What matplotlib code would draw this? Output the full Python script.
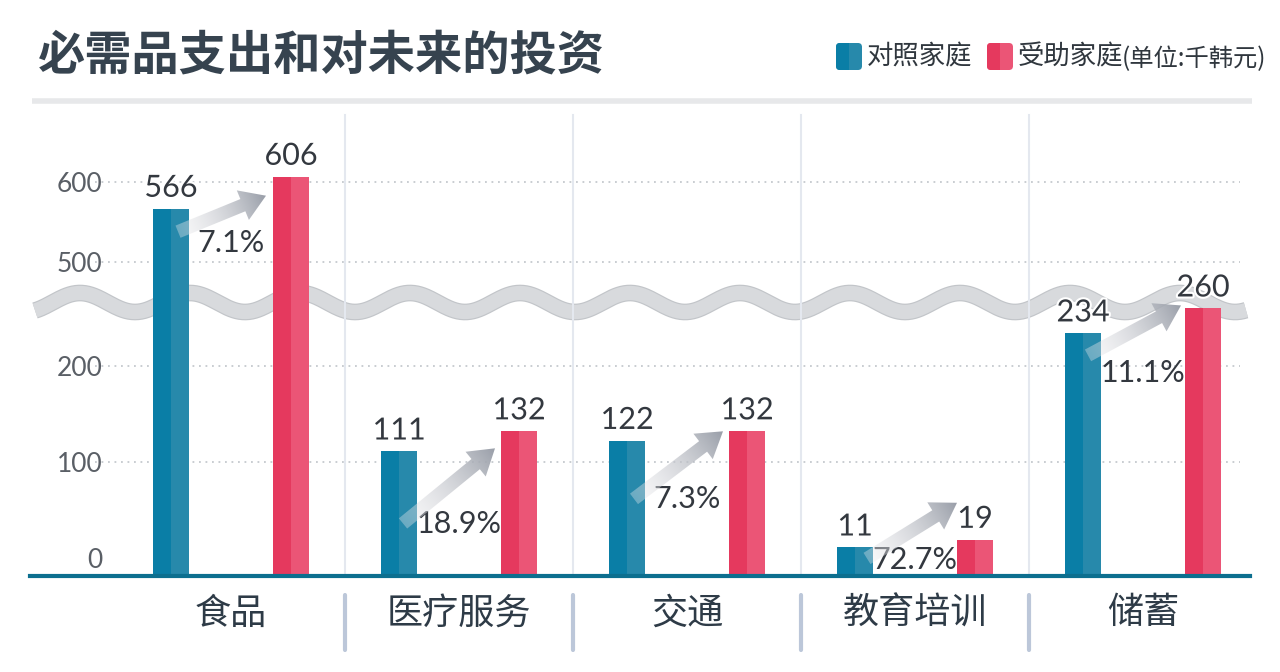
import numpy as np
import matplotlib.pyplot as plt
import matplotlib.patheffects as pe
from matplotlib.patches import FancyArrowPatch, FancyBboxPatch, Rectangle, ArrowStyle

plt.rcParams['font.family'] = ['Noto Sans CJK SC', 'DejaVu Sans']

# data
title = '必需品支出和对未来的投资'
categories = ['食品', '医疗服务', '交通', '教育培训', '储蓄']
control = [566, 111, 122, 11, 234]
aided = [606, 132, 132, 19, 260]
growth = ['7.1%', '18.9%', '7.3%', '72.7%', '11.1%']
yticks = [0, 100, 200, 500, 600]
legend_names = ['对照家庭', '受助家庭']
unit_note = '(单位:千韩元)'

BLUE_D, BLUE_L = '#0a7ea6', '#2789ab'
RED_D, RED_L = '#e5395e', '#eb5576'
TXT = '#33383f'
NUM_FONT = ['Lato', 'DejaVu Sans']

W, H = 1280, 672

# broken y axis: the gap 267..450 is squeezed to nothing
knots_v = [-100, 266.7, 450, 1000]
knots_f = [-96, 256, 256.5, 696.5]


def fwd(v):
    return np.interp(v, knots_v, knots_f)


def inv(f):
    return np.interp(f, knots_f, knots_v)


fig = plt.figure(figsize=(W / 100, H / 100), dpi=100)
fig.patch.set_facecolor('white')

# background layer in pixel coords (y downwards)
bg = fig.add_axes([0, 0, 1, 1], zorder=0)
bg.set_xlim(0, W)
bg.set_ylim(H, 0)
bg.axis('off')

bg.text(38, 56, title, fontsize=34, fontweight='bold', va='center', color='#36434f')
bg.plot([32, 1252], [101, 101], color='#e7e8ea', lw=4, solid_capstyle='butt')

# legend
def legend_box(x, dark, light):
    box = FancyBboxPatch((x, 43), 26, 27, boxstyle='round,pad=0,rounding_size=4',
                         facecolor=light, edgecolor='none')
    bg.add_patch(box)
    half = Rectangle((x, 43), 13, 27, facecolor=dark, edgecolor='none')
    bg.add_patch(half)
    half.set_clip_path(box)

legend_box(836, BLUE_D, BLUE_L)
bg.text(867, 57, legend_names[0], fontsize=19, va='center', color='#30373e')
legend_box(987, RED_D, RED_L)
bg.text(1018, 57, legend_names[1], fontsize=19, va='center', color='#30373e')
bg.text(1122, 59, unit_note, fontsize=17.5, va='center', color='#30373e')

# wave marking the axis break
wx = np.linspace(35, 1246, 800)
wy = 302.5 - 9.5 * np.cos(2 * np.pi * (wx - 520) / 110)
bg.plot(wx, wy, color='#c2c5c9', lw=12, solid_capstyle='butt')
bg.plot(wx, wy, color='#d8dadd', lw=10.3, solid_capstyle='butt')

# main chart
step, x0px = 228, 231
ax = fig.add_axes([30 / W, (H - 576) / H, 1220 / W, 466 / H], zorder=1)
ax.patch.set_alpha(0)
ax.set_yscale('function', functions=(fwd, inv))
ybot = inv(-18)
ax.set_ylim(ybot, inv(448))
ax.set_xlim((30 - x0px) / step, (1250 - x0px) / step)
for s in ax.spines.values():
    s.set_visible(False)

x = np.arange(len(categories))
off = 60 / step
w = 36 / step

# light separators and dotted grid
for i in range(len(categories) - 1):
    ax.axvline(i + 0.5, ymin=0, ymax=0.99, color='#e4e8ef', lw=1.5, zorder=0)
    ax.plot([i + 0.5, i + 0.5], [-0.041, -0.159], transform=ax.get_xaxis_transform(),
            clip_on=False, color='#bcc7d9', lw=3, solid_capstyle='round')
ax.hlines([t for t in yticks if t > 0], (95 - x0px) / step, (1240 - x0px) / step,
          colors='#c5c9ce', lw=1.3, linestyles=(0, (1, 2.6)), zorder=0)

for xs, vals, dark, light in [(x - off, control, BLUE_D, BLUE_L),
                              (x + off, aided, RED_D, RED_L)]:
    h = np.array(vals) - ybot
    ax.bar(xs - w / 4, h, w / 2, bottom=ybot, color=dark, zorder=2)
    ax.bar(xs + w / 4, h, w / 2, bottom=ybot, color=light, zorder=2)
    for xi, v in zip(xs, vals):
        ax.annotate(str(v), (xi, v), xytext=(0, 5), textcoords='offset points',
                    ha='center', va='bottom', fontsize=22, color=TXT, family=NUM_FONT,
                    zorder=4,
                    path_effects=[pe.withStroke(linewidth=3, foreground='white')])

ax.axhline(ybot, color='#0c6f8f', lw=3, clip_on=False, zorder=3)

# percentage labels below the arrows (pixel drop from blue bar top)
pct_drop = [34, 73, 58, 13, 40]
for i, g in enumerate(growth):
    ax.annotate(g, (i, control[i]), xytext=(0, -pct_drop[i] * 0.72), textcoords='offset points',
                ha='center', va='center', fontsize=22, color=TXT, family=NUM_FONT,
                zorder=4)

ax.set_xticks(x, categories)
ax.set_yticks(yticks, [str(t) for t in yticks])
ax.tick_params(axis='x', length=0, pad=14, labelsize=26, labelcolor='#2e3b47')
ax.tick_params(axis='y', length=0, pad=-52, labelsize=19, labelcolor='#5a5f66')
for lab in ax.get_yticklabels():
    lab.set_family(NUM_FONT)

# gradient arrows from the blue bar to the red bar
top = fig.add_axes([0, 0, 1, 1], zorder=3)
top.set_xlim(0, W)
top.set_ylim(0, H)
top.set_autoscale_on(False)
top.axis('off')

tail_off = [(7, 23), (4, 72), (7, 58), (12, 11), (5, 22)]
head_off = [(-25, 19), (-24, 17), (-24, 0), (-18, -37), (-22, -3)]
c0 = np.array([0.93, 0.93, 0.94, 0.35])
c1 = np.array([0.60, 0.62, 0.66, 1.0])
for i in range(len(categories)):
    bx, by = ax.transData.transform((i - off, control[i]))
    rx, ry = ax.transData.transform((i + off, aided[i]))
    tail = np.array([bx + tail_off[i][0], by - tail_off[i][1]])
    head = np.array([rx + head_off[i][0], ry - head_off[i][1]])
    arrow = FancyArrowPatch(tuple(tail), tuple(head),
                            arrowstyle=ArrowStyle.Simple(head_length=1.8, head_width=2.3, tail_width=0.95),
                            mutation_scale=10, shrinkA=0, shrinkB=0,
                            facecolor='none', edgecolor='none', zorder=1)
    top.add_patch(arrow)
    xa, xb = min(tail[0], head[0]) - 30, max(tail[0], head[0]) + 30
    ya, yb = min(tail[1], head[1]) - 30, max(tail[1], head[1]) + 30
    gx, gy = np.meshgrid(np.linspace(xa, xb, 120), np.linspace(ya, yb, 120))
    d = head - tail
    t = np.clip(((gx - tail[0]) * d[0] + (gy - tail[1]) * d[1]) / (d @ d), 0, 1)
    img = c0 + t[..., None] * (c1 - c0)
    im = top.imshow(img, extent=(xa, xb, ya, yb), origin='lower', aspect='auto',
                    interpolation='bilinear', zorder=2)
    im.set_clip_path(arrow)

top.set_xlim(0, W)
top.set_ylim(0, H)

fig.savefig('out.png', dpi=100, facecolor='white')
